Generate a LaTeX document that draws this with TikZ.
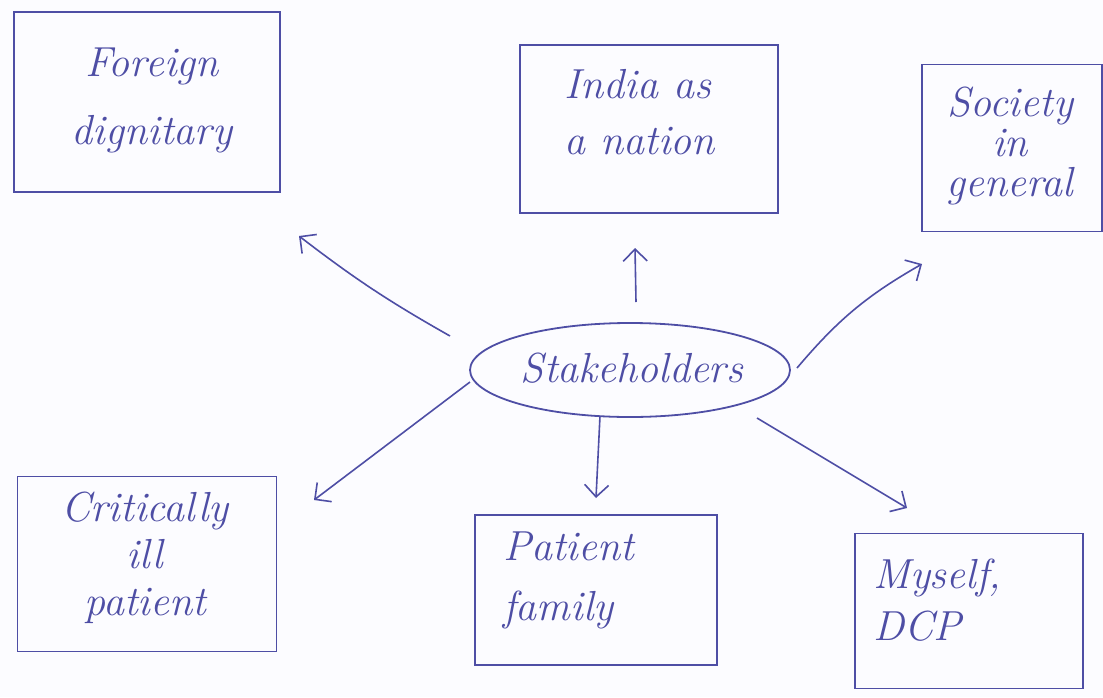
\documentclass[tikz,border=0pt]{standalone}
\usetikzlibrary{arrows.meta,shapes.geometric}
\definecolor{pen}{RGB}{78,78,165}
\definecolor{paper}{RGB}{252,252,255}
\tikzset{
  box/.style={draw=pen, line width=1.8pt, minimum width=#1, inner sep=0pt},
  lbl/.style={text=pen, font=\fontsize{42}{#1}\selectfont\itshape, inner sep=0pt},
  lbl/.default=50,
  conn/.style={draw=pen, line width=1.6pt, -{Straight Barb[length=12pt,width=24pt,line width=1.6pt]}},
}
\begin{document}
\begin{tikzpicture}[x=1pt,y=-1pt]
\useasboundingbox[fill=paper] (0,0) rectangle (1103,697);
% boxes
\node[box=266pt, minimum height=180pt] (fd) at (147,102) {};
\node[box=258pt, minimum height=168pt] (in) at (649,129) {};
\node[box=180pt, minimum height=167pt] (so) at (1012,148) {};
\node[box=259pt, minimum height=175pt] (cp) at (147,564) {};
\node[box=242pt, minimum height=150pt] (pf) at (596,590) {};
\node[box=228pt, minimum height=155pt] (my) at (969,611) {};
% labels
\node[lbl=68, align=center] (tfd) at (152,100) {Foreign\\dignitary};
\node[lbl=56, align=left] (tin) at (640,112) {India as\\a nation};
\node[lbl=40, align=center] (tso) at (1010,146) {Society\\in\\general};
\node[lbl=47, align=center] (tcp) at (145,558) {Critically\\ill\\patient};
\node[lbl=60, align=left, anchor=west] (tpf) at (503,580) {Patient\\family};
\node[lbl=52, align=left, anchor=west] (tmy) at (873,600) {Myself,\\DCP};
% centre
\node[draw=pen, line width=1.8pt, ellipse, minimum width=320pt, minimum height=94pt, inner sep=0pt] (st) at (630,370) {};
\node[lbl] (tst) at (632,368) {Stakeholders};
% arrow ends
\coordinate (a1) at (450,336); \coordinate (b1) at (299,236);
\coordinate (a2) at (636,302); \coordinate (b2) at (635,248);
\coordinate (a3) at (797,368); \coordinate (b3) at (922,264);
\coordinate (a4) at (470,382); \coordinate (b4) at (314,500);
\coordinate (a5) at (600,416); \coordinate (b5) at (596,498);
\coordinate (a6) at (757,418); \coordinate (b6) at (907,508);
\draw[conn] (a1) to[bend left=4] (b1);
\draw[conn] (a2) -- (b2);
\draw[conn] (a3) to[bend left=10] (b3);
\draw[conn] (a4) -- (b4);
\draw[conn] (a5) -- (b5);
\draw[conn] (a6) -- (b6);
\end{tikzpicture}
\end{document}
